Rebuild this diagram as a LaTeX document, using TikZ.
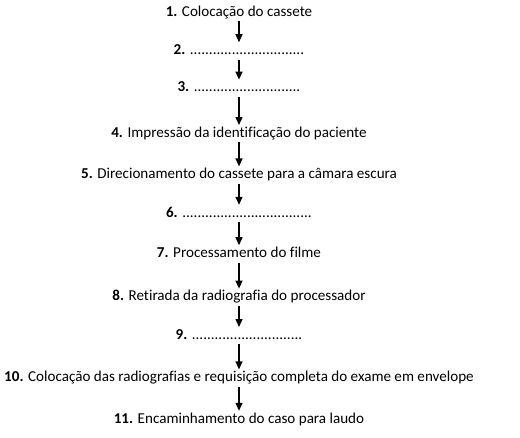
\documentclass[tikz,border=0pt]{standalone}
\usepackage{fontspec}
\setmainfont[Ligatures=NoCommon]{Carlito}
\usetikzlibrary{arrows.meta, positioning}

\newcommand{\blankline}[1]{\foreach \k in {1,...,#1}{.}}

\begin{document}
\begin{tikzpicture}[
        x=1pt, y=1pt,
        stepnode/.style={inner sep=0pt, text height=11pt, text depth=4pt, font=\fontsize{15.1}{18}\selectfont},
        arrow/.style={-{Triangle[width=7pt, length=8pt]}, line width=1.3pt, shorten <=1pt, shorten >=1pt}
    ]
    \useasboundingbox (0,0) rectangle (520,-437);

    % Steps of the workflow
    \node[stepnode, anchor=base] (colocacao) at (239,-16) {\textbf{1.} Colocação do cassete};
    \node[stepnode, below=23pt of colocacao] (passo2) {\textbf{2.} \blankline{30}};
    \node[stepnode, below=22pt of passo2] (passo3) {\textbf{3.} \blankline{28}};
    \node[stepnode, below=30pt of passo3] (impressao) {\textbf{4.} Impressão da identificação do paciente};
    \node[stepnode, below=26pt of impressao] (direcionamento) {\textbf{5.} Direcionamento do cassete para a câmara escura};
    \node[stepnode, below=23pt of direcionamento] (passo6) {\textbf{6.} \blankline{34}};
    \node[stepnode, below=25pt of passo6] (processamento) {\textbf{7.} Processamento do filme};
    \node[stepnode, below=28pt of processamento] (retirada) {\textbf{8.} Retirada da radiografia do processador};
    \node[stepnode, below=23pt of retirada] (passo9) {\textbf{9.} \blankline{29}};
    \node[stepnode, below=27pt of passo9] (envelope) {\textbf{10.} Colocação das radiografias e requisição completa do exame em envelope};
    \node[stepnode, below=26pt of envelope] (laudo) {\textbf{11.} Encaminhamento do caso para laudo};

    % Arrows
    \draw[arrow] (colocacao) -- (passo2);
    \draw[arrow] (passo2) -- (passo3);
    \draw[arrow] (passo3) -- (impressao);
    \draw[arrow] (impressao) -- (direcionamento);
    \draw[arrow] (direcionamento) -- (passo6);
    \draw[arrow] (passo6) -- (processamento);
    \draw[arrow] (processamento) -- (retirada);
    \draw[arrow] (retirada) -- (passo9);
    \draw[arrow] (passo9) -- (envelope);
    \draw[arrow] (envelope) -- (laudo);

\end{tikzpicture}
\end{document}
